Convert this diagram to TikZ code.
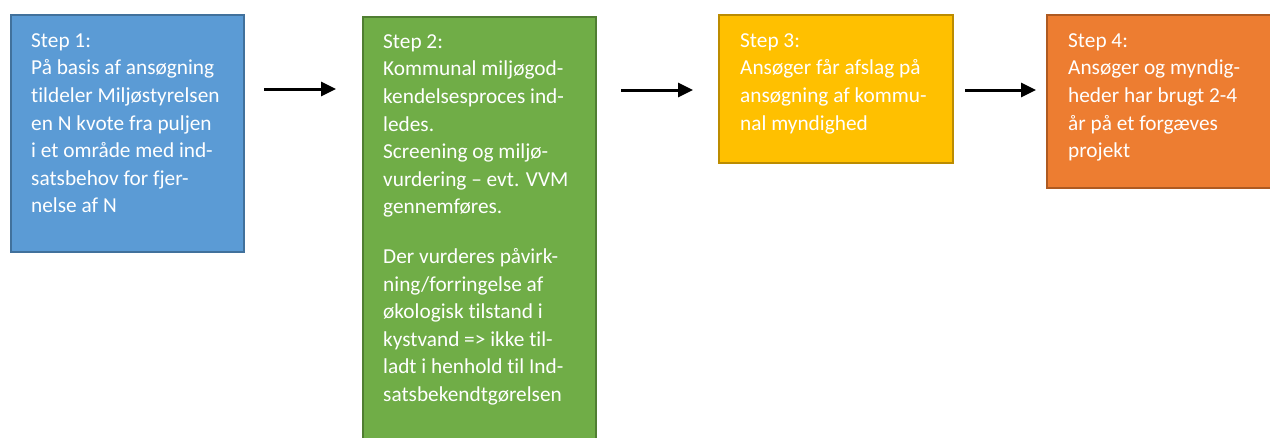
\documentclass[tikz,border=0pt]{standalone}
\usepackage{fontspec}
\setmainfont{Carlito}[Ligatures=NoCommon]
\usetikzlibrary{arrows.meta}
\definecolor{bluefill}{HTML}{5B9BD5}
\definecolor{blueline}{HTML}{41719C}
\definecolor{greenfill}{HTML}{70AD47}
\definecolor{greenline}{HTML}{507E32}
\definecolor{yellowfill}{HTML}{FFC000}
\definecolor{yellowline}{HTML}{BC8C00}
\definecolor{orangefill}{HTML}{ED7D31}
\definecolor{orangeline}{HTML}{AE5A21}
\tikzset{
  stepbox/.style={rectangle, draw, line width=2pt, inner sep=0pt, anchor=north west},
  steptext/.style={anchor=north west, inner sep=0pt, align=left, text=white,
    font=\fontsize{21.3}{27.6}\selectfont},
  flowarrow/.style={line width=3pt, -{Triangle[length=15pt,width=14pt]}}
}
\begin{document}
\begin{tikzpicture}[x=1pt,y=-1pt]
\clip (0,0) rectangle (1270,437);
\fill[white] (0,0) rectangle (1270,437);
% boxes
\node[stepbox, fill=bluefill, draw=blueline, minimum width=233pt, minimum height=237pt] (b1) at (10,14) {};
\node[stepbox, fill=greenfill, draw=greenline, minimum width=233pt, minimum height=440pt] (b2) at (362,16) {};
\node[stepbox, fill=yellowfill, draw=yellowline, minimum width=234pt, minimum height=148pt] (b3) at (718,14) {};
\node[stepbox, fill=orangefill, draw=orangeline, minimum width=240pt, minimum height=173pt] (b4) at (1046,14) {};
% texts
\node[steptext] (t1) at (31,33.3) {Step 1:\\På basis af ansøgning\\tildeler Miljøstyrelsen\\en N kvote fra puljen\\i et område med ind-\\satsbehov for fjer-\\nelse af N};
\node[steptext] (t2) at (383,34.3) {Step 2:\\Kommunal miljøgod-\\kendelsesproces ind-\\ledes.\\Screening og miljø-\\vurdering – evt. VVM\\gennemføres.\\[22pt]Der vurderes påvirk-\\ning/forringelse af\\økologisk tilstand i\\kystvand => ikke til-\\ladt i henhold til Ind-\\satsbekendtgørelsen};
\node[steptext] (t3) at (740,33.3) {Step 3:\\Ansøger får afslag på\\ansøgning af kommu-\\nal myndighed};
\node[steptext] (t4) at (1068,33.3) {Step 4:\\Ansøger og myndig-\\heder har brugt 2-4\\år på et forgæves\\projekt};
% arrows
\coordinate (a1s) at (264,89);
\coordinate (a1e) at (336,89);
\coordinate (a2s) at (621,90);
\coordinate (a2e) at (693,90);
\coordinate (a3s) at (965,90);
\coordinate (a3e) at (1036,90);
\draw[flowarrow] (a1s) -- (a1e);
\draw[flowarrow] (a2s) -- (a2e);
\draw[flowarrow] (a3s) -- (a3e);
\end{tikzpicture}
\end{document}
